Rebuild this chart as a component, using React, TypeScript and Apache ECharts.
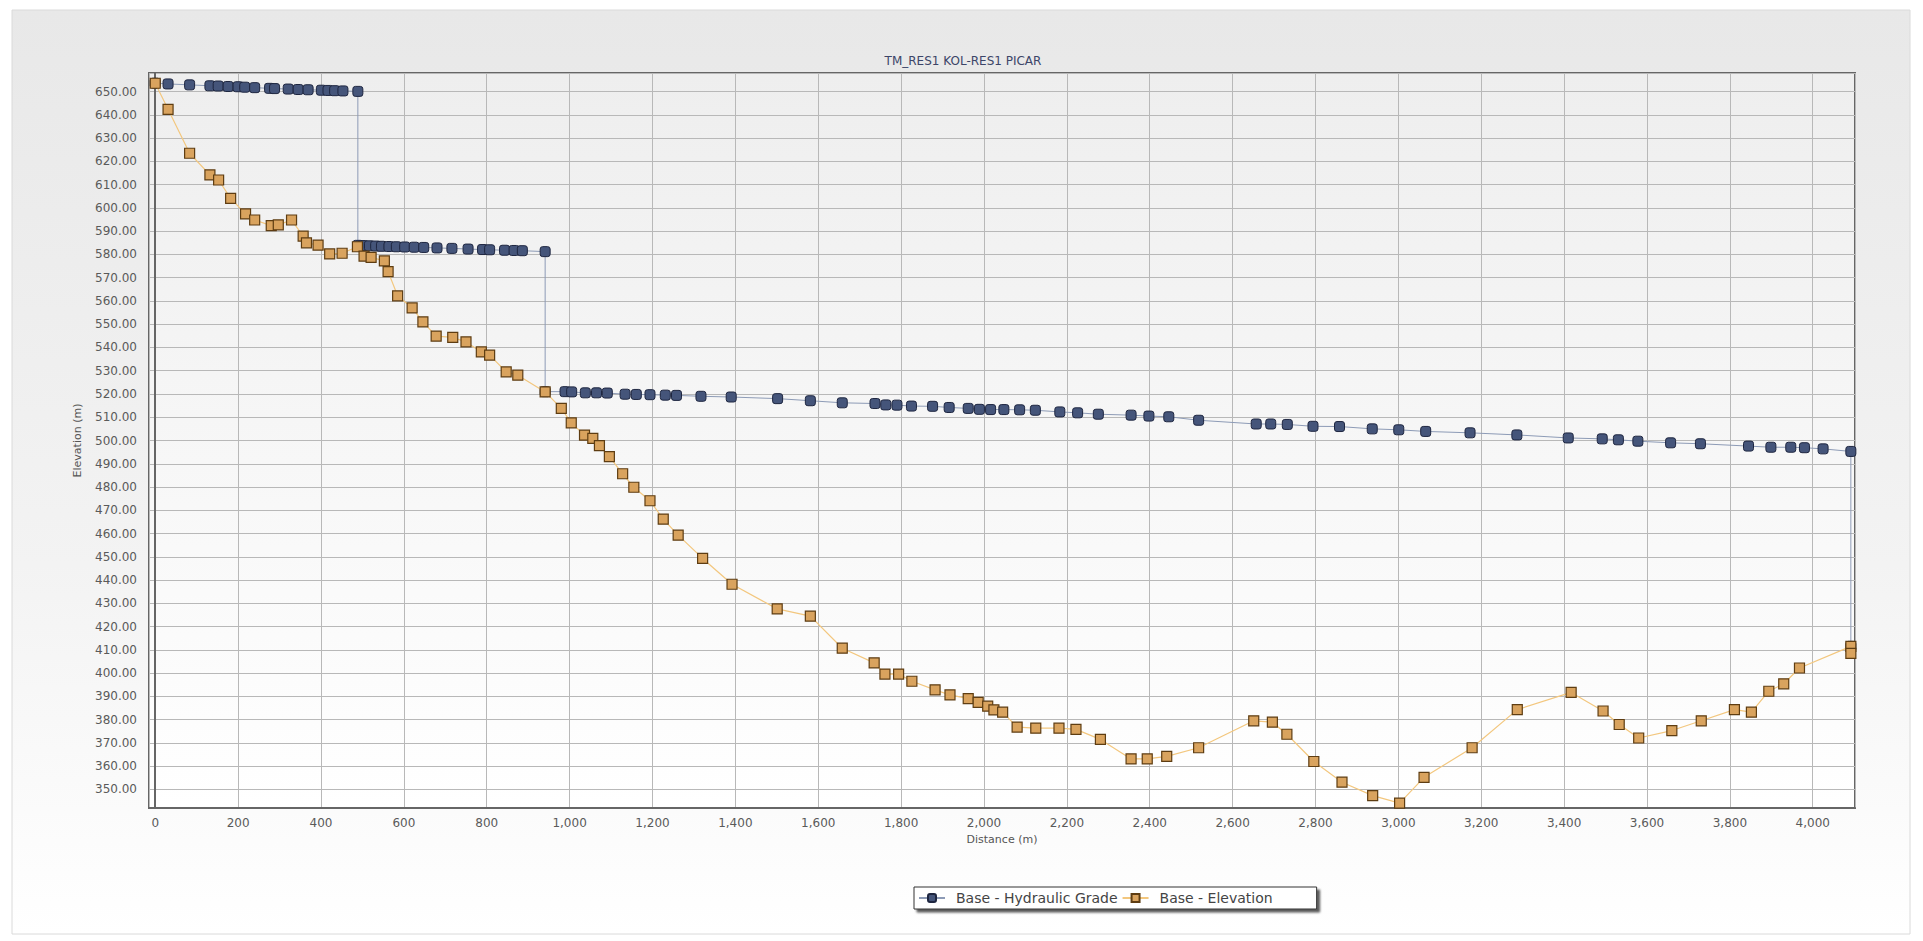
import React, { useEffect, useRef } from "react";
import * as echarts from "echarts";

const chartTitle = "TM_RES1 KOL-RES1 PICAR";
const xAxisName = "Distance (m)";
const yAxisName = "Elevation (m)";
const seriesNames = ["Base - Hydraulic Grade", "Base - Elevation"];

// Hydraulic grade line [distance m, elevation m]
const hydraulicGrade: [number, number][] = [
  [0, 653.6], [31, 653.3], [83, 652.9], [132, 652.5], [152, 652.4], [176, 652.2], [200, 652.1],
  [216, 651.9], [240, 651.7], [276, 651.4], [288, 651.3], [321, 651.1], [345, 650.9], [369, 650.8],
  [401, 650.6], [417, 650.5], [433, 650.4], [453, 650.3], [489, 650.1],
  [489, 583.9], [502, 583.8], [517, 583.7], [532, 583.6], [546, 583.5], [564, 583.4], [582, 583.3],
  [602, 583.2], [625, 583.1], [648, 583.0], [680, 582.8], [716, 582.6], [755, 582.3], [790, 582.1],
  [807, 582.0], [843, 581.8], [866, 581.7], [886, 581.6], [941, 581.2],
  [941, 521.0], [989, 521.0], [1005, 520.9], [1038, 520.5], [1065, 520.5], [1091, 520.4],
  [1134, 519.9], [1161, 519.8], [1194, 519.7], [1231, 519.5], [1258, 519.4], [1317, 519.0],
  [1390, 518.7], [1502, 518.0], [1581, 517.1], [1658, 516.2], [1737, 515.9], [1763, 515.3],
  [1790, 515.2], [1825, 514.8], [1876, 514.7], [1916, 514.2], [1962, 513.8], [1989, 513.4],
  [2016, 513.3], [2048, 513.3], [2086, 513.2], [2124, 513.0], [2183, 512.3], [2226, 511.9],
  [2276, 511.3], [2355, 510.9], [2398, 510.5], [2446, 510.2], [2518, 508.7], [2657, 507.1],
  [2692, 507.1], [2732, 506.9], [2794, 506.1], [2858, 506.0], [2937, 505.0], [3001, 504.6],
  [3066, 503.9], [3173, 503.3], [3286, 502.4], [3410, 501.1], [3492, 500.7], [3531, 500.3],
  [3578, 499.7], [3657, 499.0], [3729, 498.6], [3845, 497.6], [3899, 497.1], [3947, 497.1],
  [3980, 496.9], [4025, 496.4], [4092, 495.3], [4092, 411.5],
];

// Ground elevation [distance m, elevation m]
const groundElevation: [number, number][] = [
  [0, 653.6], [31, 642.4], [83, 623.5], [132, 614.2], [153, 612.0], [182, 604.1], [218, 597.4],
  [240, 594.8], [280, 592.4], [297, 592.7], [329, 594.8], [357, 587.9], [365, 585.0], [393, 584.0],
  [421, 580.2], [451, 580.5], [488, 583.3], [504, 579.3], [521, 578.7], [553, 577.2], [562, 572.6],
  [585, 562.2], [620, 557.0], [646, 551.0], [678, 544.9], [718, 544.3], [750, 542.4], [787, 538.1],
  [807, 536.7], [847, 529.5], [875, 528.1], [941, 520.9], [980, 513.8], [1004, 507.6], [1036, 502.3],
  [1056, 500.9], [1072, 497.8], [1096, 493.1], [1128, 485.7], [1155, 479.9], [1194, 474.1],
  [1226, 466.2], [1262, 459.3], [1321, 449.3], [1392, 438.2], [1501, 427.6], [1581, 424.5],
  [1658, 410.7], [1735, 404.4], [1761, 399.6], [1794, 399.6], [1826, 396.5], [1882, 392.8],
  [1918, 390.6], [1962, 389.0], [1986, 387.4], [2009, 385.8], [2024, 384.2], [2045, 383.2],
  [2080, 376.8], [2125, 376.3], [2181, 376.3], [2222, 375.8], [2281, 371.5], [2355, 363.1],
  [2394, 363.1], [2441, 364.2], [2518, 367.9], [2651, 379.5], [2696, 378.9], [2731, 373.7],
  [2796, 362.0], [2864, 353.1], [2938, 347.3], [3003, 344.1], [3062, 355.2], [3178, 367.9],
  [3287, 384.3], [3417, 391.7], [3494, 383.7], [3533, 377.9], [3580, 372.1], [3660, 375.3],
  [3731, 379.5], [3811, 384.3], [3852, 383.2], [3894, 392.2], [3930, 395.4], [3968, 402.2],
  [4092, 411.5], [4092, 408.5],
];

const xRange = [-15, 4102];
const yRange = [342, 658];

const FONT = "'DejaVu Sans', Verdana, sans-serif";

export default function App() {
  const ref = useRef<HTMLDivElement>(null);
  useEffect(() => {
    if (!ref.current) return;
    const chart = echarts.init(ref.current, null, { renderer: "svg" });
    chart.setOption({
      animation: false,
      backgroundColor: "#ffffff",
      title: {
        text: chartTitle,
        left: 958,
        top: 50,
        textAlign: "center",
        textStyle: { fontFamily: FONT, fontSize: 12, fontWeight: "normal", color: "#3c4568" },
      },
      graphic: [
        {
          type: "rect",
          z: -100,
          silent: true,
          shape: { x: 12, y: 10, width: 1898, height: 924 },
          style: {
            fill: new echarts.graphic.LinearGradient(0, 0, 0, 1, [
              { offset: 0, color: "#e8e8e8" },
              { offset: 0.6, color: "#f3f3f3" },
              { offset: 1, color: "#ffffff" },
            ]),
            stroke: "#dadada",
            lineWidth: 1,
          },
        },
      ],
      legend: {
        left: 914,
        top: 887,
        data: seriesNames,
        orient: "horizontal",
        itemWidth: 26,
        itemHeight: 10,
        itemGap: 4,
        padding: [4, 44, 4, 4],
        backgroundColor: "#ffffff",
        borderColor: "#333333",
        borderWidth: 1,
        borderRadius: 0,
        shadowColor: "rgba(0,0,0,0.65)",
        shadowBlur: 2,
        shadowOffsetX: 3,
        shadowOffsetY: 3,
        textStyle: { fontFamily: FONT, fontSize: 14, color: "#444444", padding: [0, 0, 0, 6] },
      },
      grid: {
        left: 149,
        right: 68,
        top: 73,
        bottom: 133,
        show: true,
        borderColor: "#666666",
        borderWidth: 2,
        backgroundColor: new echarts.graphic.LinearGradient(0, 0, 0, 1, [
          { offset: 0, color: "#eeeeee" },
          { offset: 1, color: "#ffffff" },
        ]),
      },
      xAxis: {
        type: "value",
        min: xRange[0],
        max: xRange[1],
        splitNumber: 20,
        name: xAxisName,
        nameLocation: "middle",
        nameGap: 24,
        nameTextStyle: { fontFamily: FONT, fontSize: 11, color: "#555555" },
        axisLine: { show: true, lineStyle: { color: "#666666", width: 2 } },
        axisTick: { show: false },
        axisLabel: {
          fontFamily: FONT,
          fontSize: 12,
          color: "#5a5a5a",
          margin: 9,
          showMinLabel: false,
          showMaxLabel: false,
          formatter: (v: number) =>
            Math.abs(v % 200) < 1e-6 ? Math.round(v).toLocaleString("en-US") : "",
        },
        splitLine: { show: true, lineStyle: { color: "#b8b8b8", width: 1 } },
      },
      yAxis: {
        type: "value",
        min: yRange[0],
        max: yRange[1],
        splitNumber: 32,
        name: yAxisName,
        nameLocation: "middle",
        nameGap: 66,
        nameRotate: 90,
        nameTextStyle: { fontFamily: FONT, fontSize: 11, color: "#555555" },
        axisLine: { show: true, lineStyle: { color: "#666666", width: 2 } },
        axisTick: { show: false },
        axisLabel: {
          fontFamily: FONT,
          fontSize: 12,
          color: "#5a5a5a",
          margin: 12,
          showMinLabel: false,
          showMaxLabel: false,
          formatter: (v: number) => (Math.abs(v % 10) < 1e-6 ? v.toFixed(2) : ""),
        },
        splitLine: { show: true, lineStyle: { color: "#b8b8b8", width: 1 } },
      },
      series: [
        {
          name: seriesNames[0],
          type: "line",
          data: hydraulicGrade,
          symbol: "roundRect",
          symbolSize: 10,
          showAllSymbol: true,
          lineStyle: { color: "#8d9bb6", width: 1 },
          itemStyle: { color: "#45557a", borderColor: "#1e2640", borderWidth: 1 },
          z: 3,
        },
        {
          name: seriesNames[1],
          type: "line",
          data: groundElevation,
          symbol: "rect",
          symbolSize: 10,
          showAllSymbol: true,
          lineStyle: { color: "#f3c77e", width: 1.2 },
          itemStyle: { color: "#d9a35e", borderColor: "#5e3d12", borderWidth: 1.2 },
          z: 4,
        },
      ],
    });
    return () => chart.dispose();
  }, []);
  return (
    <div
      ref={ref}
      style={{ position: "absolute", left: 0, top: 0, width: 1923, height: 941 }}
    />
  );
}
